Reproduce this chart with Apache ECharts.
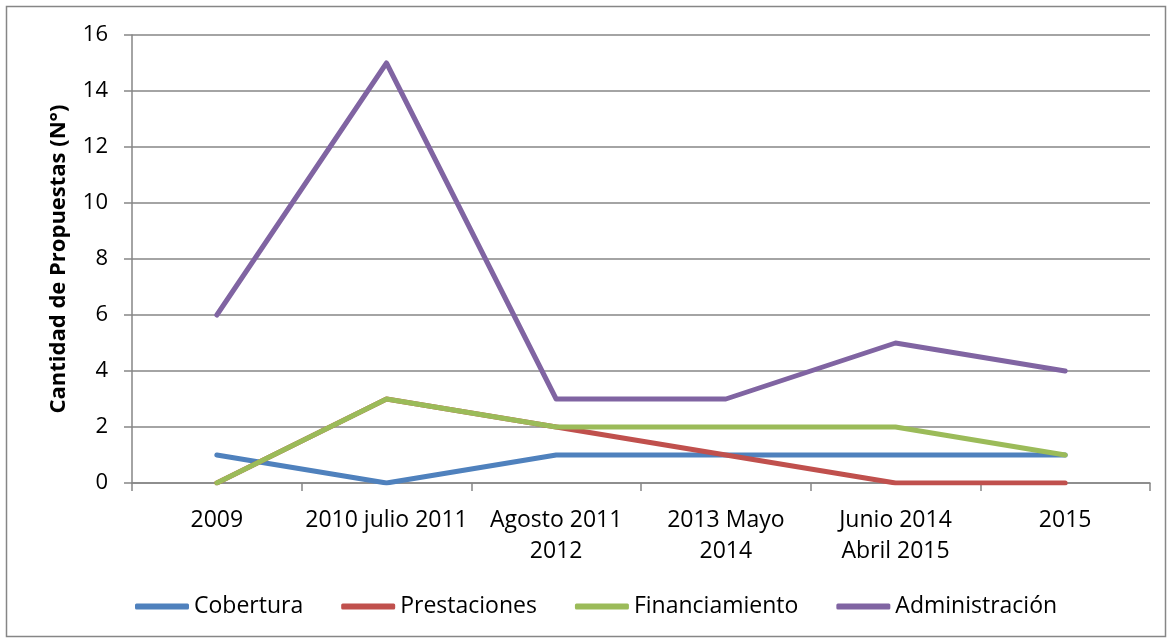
<!DOCTYPE html>
<html>
<head>
<meta charset="utf-8">
<script src="https://cdn.jsdelivr.net/npm/echarts@6/dist/echarts.min.js"></script>
<style>
  html, body { margin: 0; padding: 0; background: #fff; }
  #chart { width: 1172px; height: 643px; }
</style>
</head>
<body>
<div id="chart"></div>
<script>
const categories = ["2009", "2010 julio 2011", "Agosto 2011\n2012", "2013 Mayo\n2014", "Junio 2014\nAbril 2015", "2015"];
const cobertura = [1, 0, 1, 1, 1, 1];
const prestaciones = [0, 3, 2, 1, 0, 0];
const financiamiento = [0, 3, 2, 2, 2, 1];
const administracion = [6, 15, 3, 3, 5, 4];

const font = "'Open Sans', 'Liberation Sans', sans-serif";
const gray = "#868686";

const chart = echarts.init(document.getElementById("chart"));

const makeLine = (name, data, color) => ({
  name,
  type: "line",
  data,
  symbol: "none",
  lineStyle: { width: 5, color, cap: "round", join: "round" },
  itemStyle: { color },
});

chart.setOption({
  animation: false,
  textStyle: { fontFamily: font },
  graphic: [
    {
      type: "rect",
      shape: { x: 6.5, y: 6.5, width: 1159, height: 630 },
      style: { fill: "none", stroke: gray, lineWidth: 1.5 },
      z: -1,
    },
  ],
  grid: { left: 132, right: 22, top: 35, bottom: 160 },
  legend: {
    bottom: 20,
    left: 130,
    icon: "roundRect",
    itemWidth: 54,
    itemHeight: 6,
    itemGap: 38,
    textStyle: { fontSize: 23, color: "#000", fontFamily: font },
    data: ["Cobertura", "Prestaciones", "Financiamiento", "Administración"],
  },
  xAxis: {
    type: "category",
    data: categories,
    boundaryGap: true,
    axisLine: { lineStyle: { color: gray, width: 1.5 } },
    axisTick: { show: true, length: 8, lineStyle: { color: gray, width: 1.5 } },
    axisLabel: { fontSize: 23, color: "#000", margin: 22, lineHeight: 31, interval: 0 },
  },
  yAxis: {
    type: "value",
    min: 0,
    max: 16,
    interval: 2,
    name: "Cantidad de Propuestas (N°)",
    nameLocation: "middle",
    nameGap: 62,
    nameRotate: 90,
    nameTextStyle: { fontSize: 22, fontWeight: "bold", color: "#000" },
    axisLine: { show: true, lineStyle: { color: gray, width: 1.5 } },
    axisTick: { show: true, length: 8, lineStyle: { color: gray, width: 1.5 } },
    axisLabel: { fontSize: 22, color: "#000", margin: 24 },
    splitLine: { lineStyle: { color: gray, width: 1.5 } },
  },
  series: [
    makeLine("Cobertura", cobertura, "#4F81BD"),
    makeLine("Prestaciones", prestaciones, "#C0504D"),
    makeLine("Financiamiento", financiamiento, "#9BBB59"),
    makeLine("Administración", administracion, "#8064A2"),
  ],
});
</script>
</body>
</html>
